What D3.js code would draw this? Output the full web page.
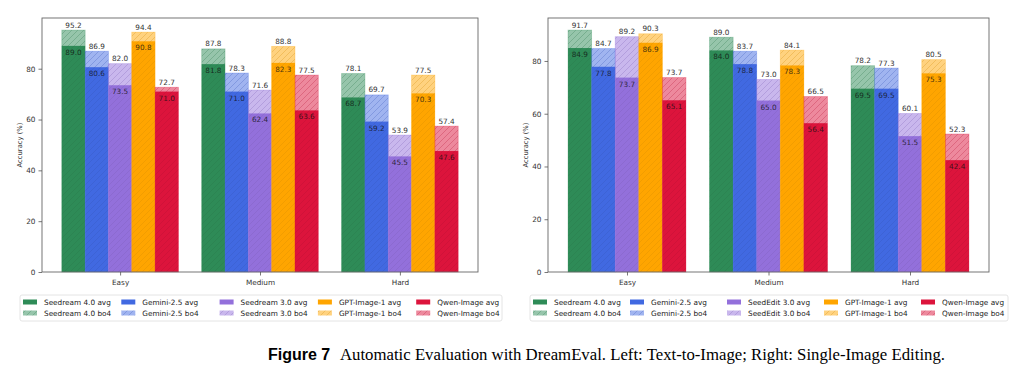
<!DOCTYPE html>
<html>
<head>
<meta charset="utf-8">
<script src="https://cdn.jsdelivr.net/npm/d3@7"></script>
<style>
  body { margin: 0; background: #fff; }
  svg { display: block; }
</style>
</head>
<body>
<svg id="chart" width="1020" height="376"></svg>
<script>
// categories and models
const categories = ["Easy", "Medium", "Hard"];
const t2iModels = ["Seedream 4.0", "Gemini-2.5", "Seedream 3.0", "GPT-Image-1", "Qwen-Image"];
const editModels = ["Seedream 4.0", "Gemini-2.5", "SeedEdit 3.0", "GPT-Image-1", "Qwen-Image"];
const colors = ["#2E8B57", "#4169E1", "#9370DB", "#FFA500", "#DC143C"];
const yTicks = [0, 20, 40, 60, 80];

// left: text-to-image (per model: Easy, Medium, Hard)
const t2iAvg = [
  [89.0, 81.8, 68.7],
  [80.6, 71.0, 59.2],
  [73.5, 62.4, 45.5],
  [90.8, 82.3, 70.3],
  [71.0, 63.6, 47.6]
];
const t2iBo4 = [
  [95.2, 87.8, 78.1],
  [86.9, 78.3, 69.7],
  [82.0, 71.6, 53.9],
  [94.4, 88.8, 77.5],
  [72.7, 77.5, 57.4]
];

// right: single-image editing
const editAvg = [
  [84.9, 84.0, 69.5],
  [77.8, 78.8, 69.5],
  [73.7, 65.0, 51.5],
  [86.9, 78.3, 75.3],
  [65.1, 56.4, 42.4]
];
const editBo4 = [
  [91.7, 89.0, 78.2],
  [84.7, 83.7, 77.3],
  [89.2, 73.0, 60.1],
  [90.3, 84.1, 80.5],
  [73.7, 66.5, 52.3]
];

const svg = d3.select("#chart");
const defs = svg.append("defs");

// hatch patterns, one per colour
colors.forEach((c, i) => {
  const p = defs.append("pattern")
    .attr("id", "hatch" + i)
    .attr("patternUnits", "userSpaceOnUse")
    .attr("width", 6).attr("height", 6);
  p.append("rect").attr("width", 6).attr("height", 6).attr("fill", c).attr("fill-opacity", 0.5);
  p.append("path")
    .attr("d", "M-1,7 L7,-1 M-4,4 L4,-4 M2,10 L10,2")
    .attr("stroke", d3.color(c).darker(0.6))
    .attr("stroke-opacity", 0.35)
    .attr("stroke-width", 0.8);
});

const font = "DejaVu Sans, sans-serif";
const fs = "7.3px";

function drawPanel(opt) {
  const g = svg.append("g");
  const x = d3.scaleLinear().domain([-0.5583, 2.5583]).range([opt.left, opt.right]);
  const maxV = d3.max(opt.bo4.flat().concat(opt.avg.flat()));
  const y = d3.scaleLinear().domain([0, maxV * 1.05]).range([opt.bottom, opt.top]);
  const w = 1 / 6;
  const bw = x(w) - x(0);

  opt.models.forEach((m, j) => {
    categories.forEach((cat, i) => {
      const cx = x(i + (j - 2) * w);
      const a = opt.avg[j][i], b = opt.bo4[j][i];
      // avg bar (solid)
      g.append("rect")
        .attr("x", cx - bw / 2).attr("width", bw)
        .attr("y", y(a)).attr("height", y(0) - y(a))
        .attr("fill", colors[j]);
      // bo4 bar (hatched, translucent)
      g.append("rect")
        .attr("x", cx - bw / 2).attr("width", bw)
        .attr("y", y(b)).attr("height", y(0) - y(b))
        .attr("fill", "url(#hatch" + j + ")")
        .attr("stroke", colors[j]).attr("stroke-opacity", 0.35).attr("stroke-width", 0.8);
      // labels
      g.append("text")
        .attr("x", cx).attr("y", y(b) - 2.5)
        .attr("text-anchor", "middle")
        .style("font-family", font).style("font-size", fs)
        .attr("fill", "#333")
        .text(b.toFixed(1));
      g.append("text")
        .attr("x", cx).attr("y", y(a) + 9)
        .attr("text-anchor", "middle")
        .style("font-family", font).style("font-size", fs)
        .attr("fill", "#111").attr("fill-opacity", 0.8)
        .text(a.toFixed(1));
    });
  });

  // frame
  g.append("rect")
    .attr("x", opt.left).attr("y", opt.top)
    .attr("width", opt.right - opt.left).attr("height", opt.bottom - opt.top)
    .attr("fill", "none").attr("stroke", "#666").attr("stroke-width", 0.9);

  // axes
  const yAxis = g.append("g")
    .attr("transform", `translate(${opt.left},0)`)
    .call(d3.axisLeft(y).tickValues(yTicks).tickSize(3.5).tickPadding(3));
  const xAxis = g.append("g")
    .attr("transform", `translate(0,${opt.bottom})`)
    .call(d3.axisBottom(x).tickValues([0, 1, 2]).tickFormat(i => categories[i]).tickSize(3.5).tickPadding(4));
  [yAxis, xAxis].forEach(ax => {
    ax.select(".domain").remove();
    ax.selectAll(".tick line").attr("stroke", "#555").attr("stroke-width", 0.8);
    ax.selectAll(".tick text")
      .style("font-family", font).style("font-size", fs).attr("fill", "#333");
  });

  g.append("text")
    .attr("transform", `translate(${opt.left - 20},${(opt.top + opt.bottom) / 2}) rotate(-90)`)
    .attr("text-anchor", "middle")
    .style("font-family", font).style("font-size", "6.8px").attr("fill", "#333")
    .text("Accuracy (%)");

  // legend
  const lg = g.append("g");
  lg.append("rect")
    .attr("x", opt.legX).attr("y", 295)
    .attr("width", opt.legW).attr("height", 26)
    .attr("rx", 2)
    .attr("fill", "#fff").attr("stroke", "#ddd").attr("stroke-width", 0.8);
  opt.models.forEach((m, j) => {
    const lx = opt.legX + 3 + j * opt.legCol;
    [0, 1].forEach(k => {
      const ly = 302 + k * 11;
      lg.append("rect")
        .attr("x", lx).attr("y", ly - 2.5)
        .attr("width", 14).attr("height", 5)
        .attr("fill", k === 0 ? colors[j] : "url(#hatch" + j + ")");
      lg.append("text")
        .attr("x", lx + 21).attr("y", ly + 2.7)
        .style("font-family", font).style("font-size", fs).attr("fill", "#222")
        .text(m + (k === 0 ? " avg" : " bo4"));
    });
  });
}

drawPanel({
  models: t2iModels, avg: t2iAvg, bo4: t2iBo4,
  left: 42, right: 478, top: 18, bottom: 272,
  legX: 20, legW: 482, legCol: 98.3
});

drawPanel({
  models: editModels, avg: editAvg, bo4: editBo4,
  left: 548, right: 989, top: 18, bottom: 272,
  legX: 530, legW: 478, legCol: 97
});

// caption
const cap = svg.append("text")
  .attr("x", 268).attr("y", 360);
cap.append("tspan")
  .style("font-family", "Liberation Sans, Arial, sans-serif")
  .style("font-weight", "bold").style("font-size", "16px")
  .text("Figure 7");
svg.append("text")
  .attr("x", 340).attr("y", 360)
  .attr("textLength", 605).attr("lengthAdjust", "spacingAndGlyphs")
  .style("font-family", "Liberation Serif, serif").style("font-size", "16.5px")
  .text("Automatic Evaluation with DreamEval. Left: Text-to-Image; Right: Single-Image Editing.");
</script>
</body>
</html>
